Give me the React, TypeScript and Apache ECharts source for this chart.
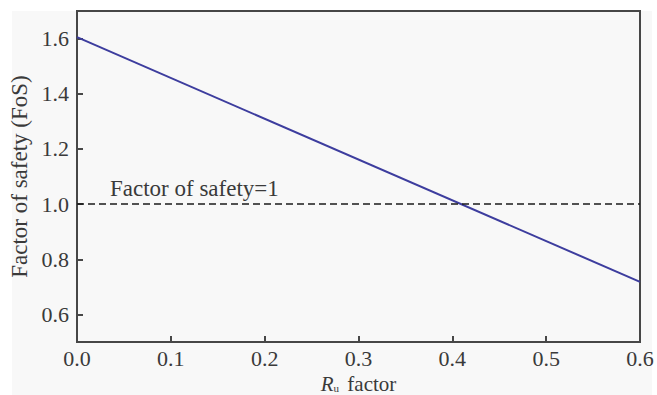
import React, { useEffect, useRef } from "react";
import * as echarts from "echarts";

const fosLineX = [0.0, 0.6];
const fosLineY = [1.605, 0.718];
const thresholdValue = 1.0;
const thresholdLabel = "Factor of safety=1";
const yTickValues = [0.6, 0.8, 1.0, 1.2, 1.4, 1.6];
const xTickValues = [0.0, 0.1, 0.2, 0.3, 0.4, 0.5, 0.6];
const yAxisTitle = "Factor of safety (FoS)";
const xAxisTitle = "{i|R}{s|u} factor";

const FONT = "'Liberation Serif', 'Times New Roman', serif";
const TEXT = "#3a3a3a";
const AXIS = "#474747";

export default function App() {
  const ref = useRef<HTMLDivElement>(null);
  useEffect(() => {
    if (!ref.current) return;
    const chart = echarts.init(ref.current, undefined, { renderer: "svg" });
    const fosData = fosLineX.map((x, i) => [x, fosLineY[i]]);
    chart.setOption({
      animation: false,
      backgroundColor: "#ffffff",
      graphic: [
        {
          type: "rect",
          z: -100,
          silent: true,
          shape: { x: 12, y: 11, width: 640, height: 384 },
          style: { fill: "#f8f8f8" },
        },
      ],
      grid: {
        left: 77,
        right: 17,
        top: 11,
        bottom: 53,
        containLabel: false,
        outerBoundsMode: "none",
        show: true,
        borderColor: AXIS,
        borderWidth: 2,
        backgroundColor: "transparent",
      },
      xAxis: {
        type: "value",
        min: 0,
        max: 0.6,
        interval: 0.1,
        name: xAxisTitle,
        nameLocation: "middle",
        nameGap: 24,
        nameTextStyle: {
          fontFamily: FONT,
          fontSize: 21,
          lineHeight: 20,
          color: TEXT,
          rich: {
            i: { fontFamily: FONT, fontSize: 21, lineHeight: 20, fontStyle: "italic", color: TEXT },
            s: { fontFamily: FONT, fontSize: 11, lineHeight: 11, color: TEXT, padding: [8, 3, 0, 0] },
          },
        },
        axisLine: { show: true, lineStyle: { color: AXIS, width: 2 } },
        axisTick: {
          show: true,
          inside: true,
          length: 6,
          lineStyle: { color: AXIS, width: 2 },
          customValues: xTickValues,
        },
        axisLabel: {
          fontFamily: FONT,
          fontSize: 22,
          lineHeight: 18,
          color: TEXT,
          margin: 7,
          customValues: xTickValues,
          formatter: (v: number) => v.toFixed(1),
        },
        splitLine: { show: false },
      },
      yAxis: {
        type: "value",
        min: 0.5,
        max: 1.7,
        name: yAxisTitle,
        nameLocation: "middle",
        nameGap: 45,
        nameTextStyle: { fontFamily: FONT, fontSize: 23, color: TEXT },
        axisLine: { show: true, lineStyle: { color: AXIS, width: 2 } },
        axisTick: {
          show: true,
          inside: true,
          length: 6,
          lineStyle: { color: AXIS, width: 2 },
          customValues: yTickValues,
        },
        axisLabel: {
          fontFamily: FONT,
          fontSize: 22,
          color: TEXT,
          margin: 8,
          customValues: yTickValues,
          formatter: (v: number) => v.toFixed(1),
        },
        splitLine: { show: false },
      },
      series: [
        {
          type: "line",
          data: fosData,
          symbol: "none",
          lineStyle: { color: "#3d3d9e", width: 2 },
          z: 3,
          markLine: {
            silent: true,
            symbol: "none",
            lineStyle: { color: "#1a1a1a", width: 1.6, type: [7, 4] },
            label: {
              show: true,
              position: "insideStartTop",
              formatter: thresholdLabel,
              fontFamily: FONT,
              fontSize: 23,
              color: TEXT,
              distance: [33, 4],
            },
            data: [{ yAxis: thresholdValue }],
          },
        },
      ],
    });
    return () => chart.dispose();
  }, []);
  return (
    <div
      ref={ref}
      style={{ position: "fixed", left: 0, top: 0, width: 657, height: 395 }}
    />
  );
}
